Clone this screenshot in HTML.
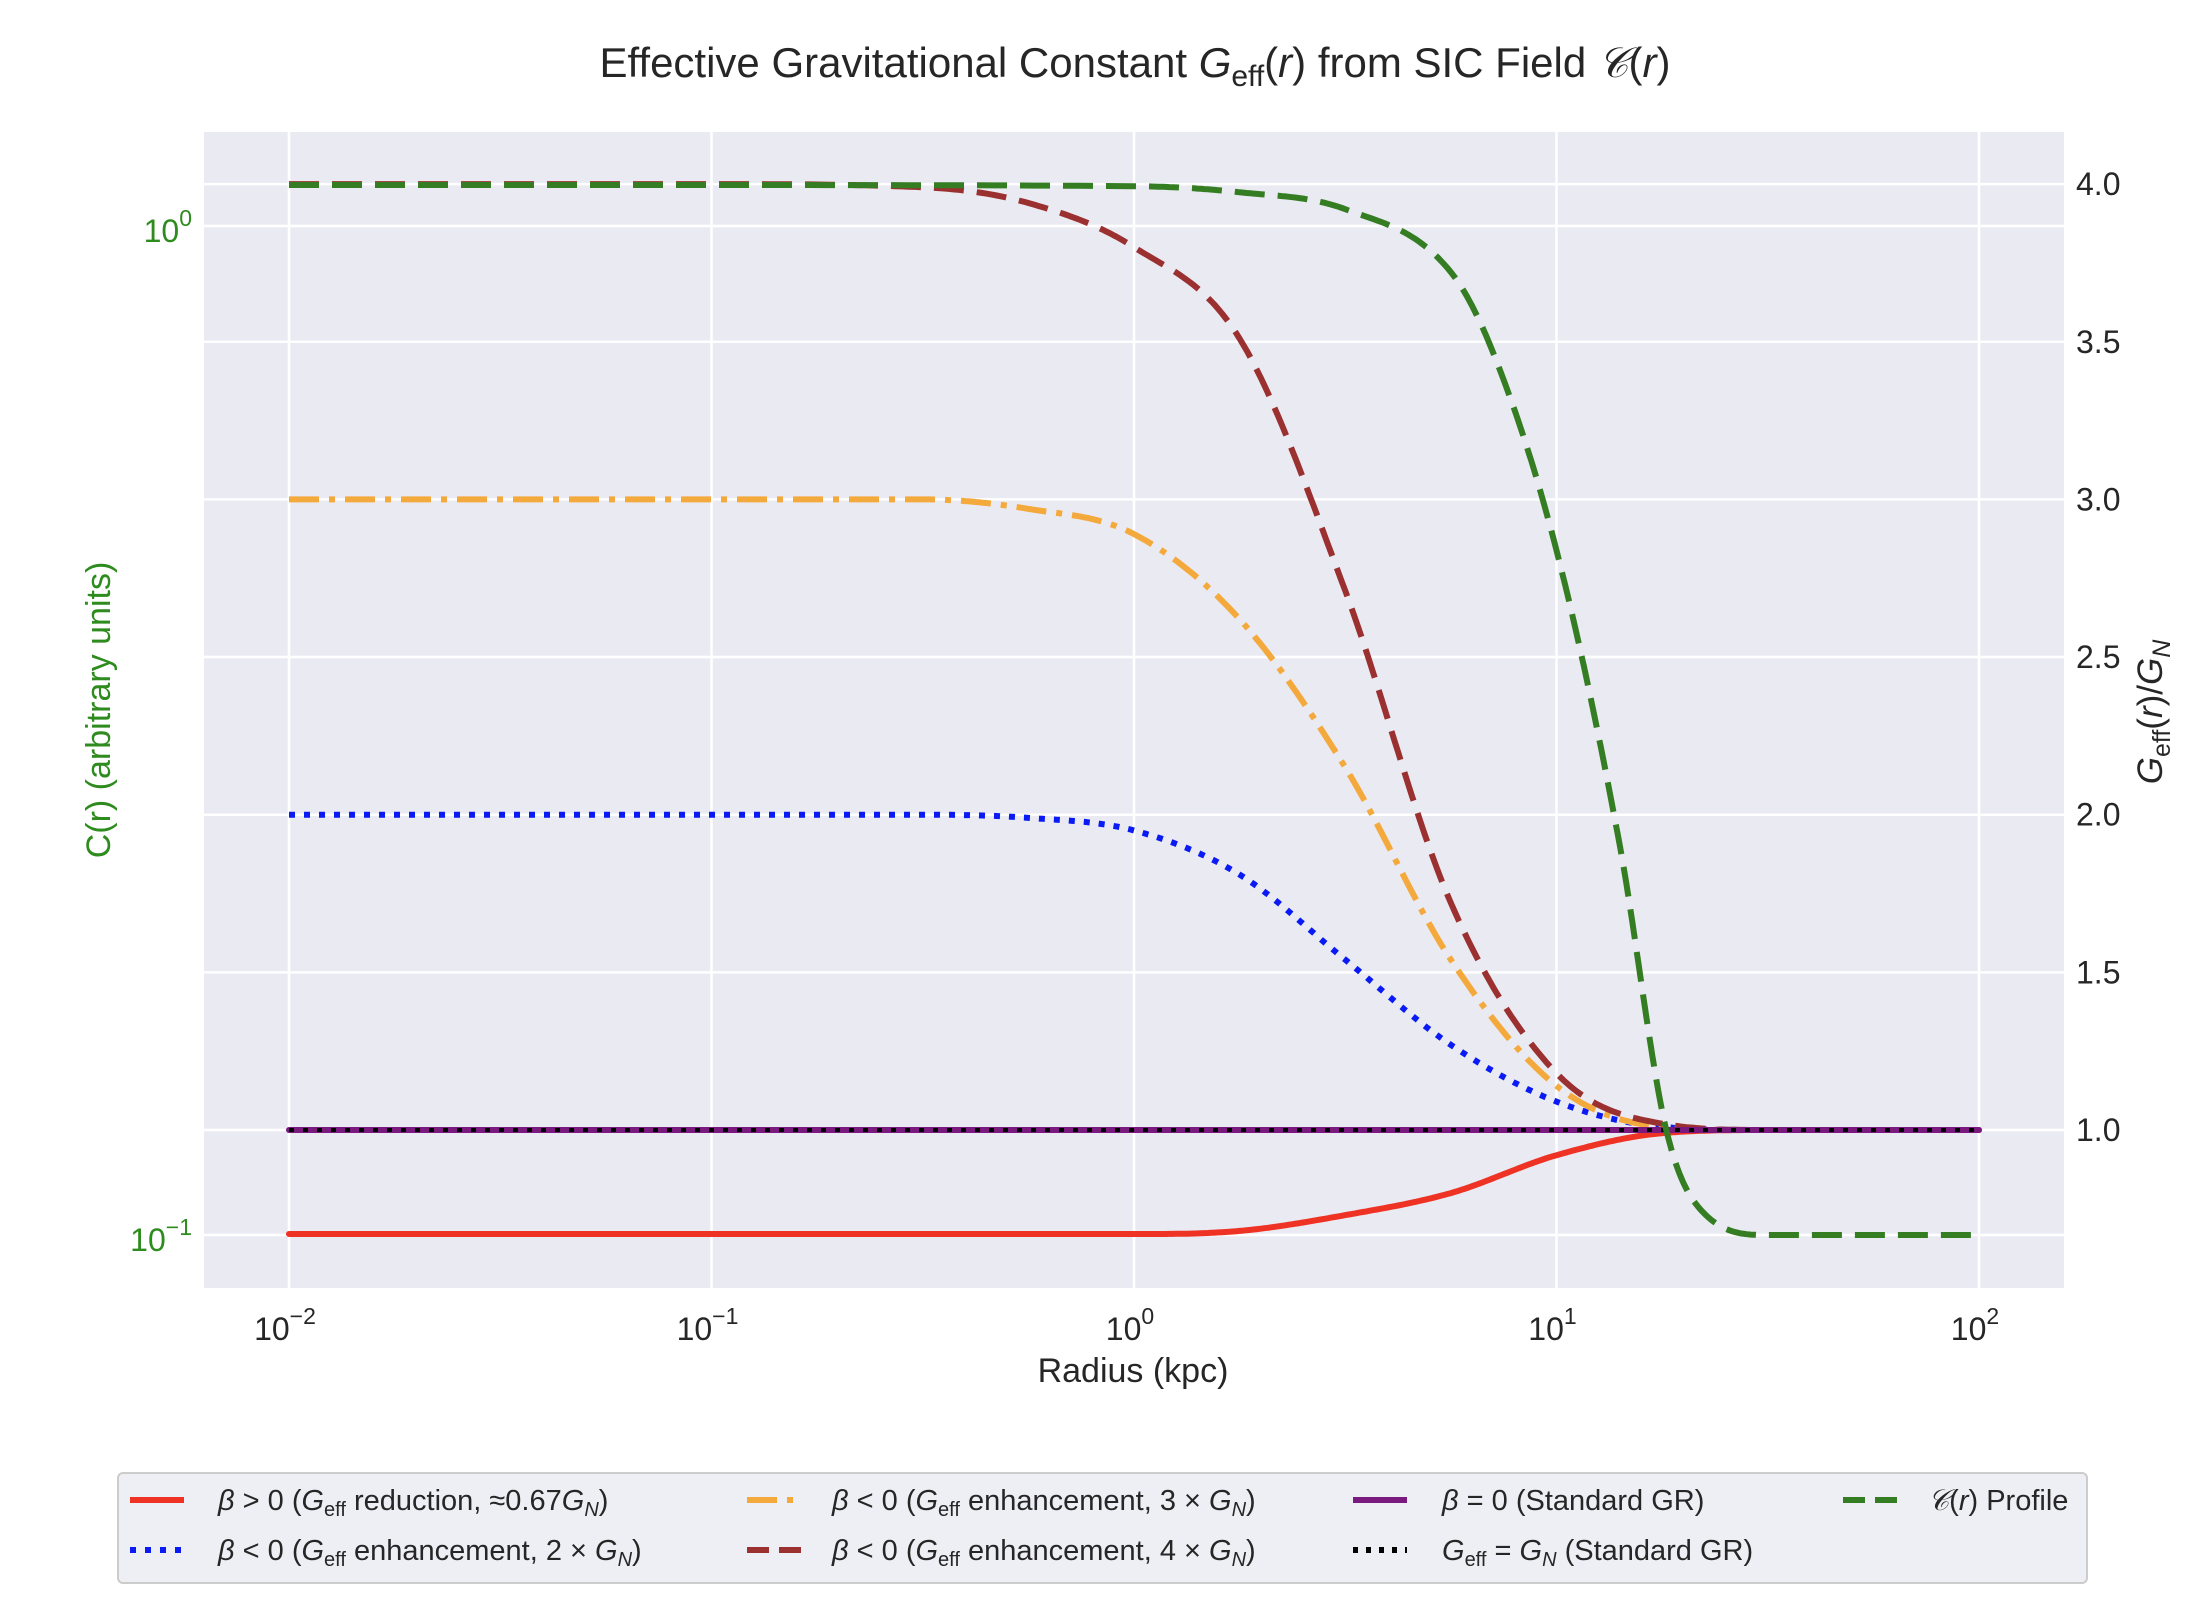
<!DOCTYPE html>
<html><head><meta charset="utf-8"><style>
body{margin:0;background:#fff}
svg{display:block;font-family:"Liberation Sans","DejaVu Sans",sans-serif}
</style></head><body>
<svg id="chart" width="2210" height="1600" viewBox="0 0 2210 1600" xmlns="http://www.w3.org/2000/svg">
<rect x="0" y="0" width="2210" height="1600" fill="#fff"/>
<rect x="204" y="132" width="1860" height="1156" fill="#eaeaf2"/>
<g id="grid"></g>
<g id="series"></g>
<g id="axes"></g>
<text x="1135" y="77" font-size="42" text-anchor="middle" fill="#262626">Effective Gravitational Constant <tspan font-style="italic">G</tspan><tspan font-size="30" dy="9">eff</tspan><tspan dy="-9">(</tspan><tspan font-style="italic">r</tspan>) from SIC Field <tspan font-style="italic">𝒞</tspan>(<tspan font-style="italic">r</tspan>)</text>
<text x="1133" y="1382" font-size="34" text-anchor="middle" fill="#262626">Radius (kpc)</text>
<text transform="translate(110,710) rotate(-90)" font-size="34" text-anchor="middle" fill="#2e8b1e">C(r) (arbitrary units)</text>
<text transform="translate(2162,712) rotate(-90)" font-size="35" text-anchor="middle" fill="#262626"><tspan font-style="italic">G</tspan><tspan font-size="25" dy="8">eff</tspan><tspan dy="-8">(</tspan><tspan font-style="italic">r</tspan>)/<tspan font-style="italic">G</tspan><tspan font-size="25" dy="8" font-style="italic">N</tspan></text>
<g id="legend">
<rect x="118" y="1473" width="1969" height="110" rx="5" fill="#eaeaf2" fill-opacity="0.8" stroke="#cccccc" stroke-width="2"/>
</g>
</svg>
<script>
// log10 radius sample points (kpc)
const logR = [-2, -1, -0.5, -0.25, 0, 0.25, 0.5, 0.75, 1.0, 1.25, 1.5, 2];
const gReduction = [0.67, 0.67, 0.67, 0.67, 0.67, 0.68, 0.73, 0.80, 0.92, 0.99, 1.0, 1.0];
const gEnh2 = [2.0, 2.0, 2.0, 1.99, 1.95, 1.81, 1.54, 1.27, 1.09, 1.01, 1.0, 1.0];
const gEnh3 = [3.0, 3.0, 3.0, 2.97, 2.89, 2.62, 2.15, 1.54, 1.14, 1.01, 1.0, 1.0];
const gEnh4 = [4.0, 4.0, 3.99, 3.94, 3.80, 3.51, 2.71, 1.72, 1.18, 1.02, 1.0, 1.0];
const gStd = [1, 1, 1, 1, 1, 1, 1, 1, 1, 1, 1, 1];
const logRC = [-2, -1, 0, 0.25, 0.5, 0.75, 0.85, 1.0, 1.15, 1.26, 1.35, 1.5, 2];
const cProfile = [1.098, 1.098, 1.095, 1.080, 1.039, 0.900, 0.749, 0.477, 0.243, 0.127, 0.105, 0.1, 0.1];
const xTicks = [-2, -1, 0, 1, 2];
const rightTicks = [1.0, 1.5, 2.0, 2.5, 3.0, 3.5, 4.0];
const leftTicks = [0, -1];

const NS = "http://www.w3.org/2000/svg";
const xS = L => 289 + (L + 2) * 422.5;
const yR = v => 1130 - (v - 1) * 315.3;
const yL = c => 226 - Math.log10(c) * 1009;
function mk(tag, attrs, parent) {
  const e = document.createElementNS(NS, tag);
  for (const k in attrs) e.setAttribute(k, attrs[k]);
  parent.appendChild(e);
  return e;
}
const grid = document.getElementById('grid');
const axes = document.getElementById('axes');
const series = document.getElementById('series');
const legend = document.getElementById('legend');

xTicks.forEach(t => {
  const l = mk('line', {x1: xS(t), x2: xS(t), y1: 132, y2: 1288, stroke: '#fff', 'stroke-width': 2.5}, grid);
  
  
  const tx = mk('text', {x: xS(t) - 4, y: 1340, 'font-size': 32, 'text-anchor': 'middle', fill: '#262626'}, axes);
  
  
  tx.innerHTML = '10<tspan font-size="23" dy="-16">' + (t < 0 ? '−' + (-t) : t) + '</tspan>';
});
rightTicks.forEach(t => {
  const l = mk('line', {x1: 204, x2: 2064, y1: yR(t), y2: yR(t), stroke: '#fff', 'stroke-width': 2.5}, grid);
  
  
  const tx = mk('text', {x: 2076, y: yR(t) + 11, 'font-size': 32, fill: '#262626'}, axes);
  
  
  tx.textContent = t.toFixed(1);
});
leftTicks.forEach(t => {
  const y = yL(Math.pow(10, t));
  const l = mk('line', {x1: 204, x2: 2064, y1: y, y2: y, stroke: '#fff', 'stroke-width': 2.5}, grid);
  
  
  const tx = mk('text', {x: 192, y: y + 16, 'font-size': 32, 'text-anchor': 'end', fill: '#2e8b1e'}, axes);
  
  
  tx.innerHTML = '10<tspan font-size="23" dy="-16">' + (t < 0 ? '−' + (-t) : t) + '</tspan>';
});

// monotone cubic (Fritsch-Carlson) interpolation, densely sampled
function monoPath(xs, ys) {
  const n = xs.length, d = [], m = [];
  for (let i = 0; i < n - 1; i++) d.push((ys[i + 1] - ys[i]) / (xs[i + 1] - xs[i]));
  m[0] = d[0]; m[n - 1] = d[n - 2];
  for (let i = 1; i < n - 1; i++) m[i] = (d[i - 1] * d[i] <= 0) ? 0 : (d[i - 1] + d[i]) / 2;
  for (let i = 0; i < n - 1; i++) {
    if (d[i] === 0) { m[i] = 0; m[i + 1] = 0; continue; }
    const a = m[i] / d[i], b = m[i + 1] / d[i], s = a * a + b * b;
    if (s > 9) { const t = 3 / Math.sqrt(s); m[i] = t * a * d[i]; m[i + 1] = t * b * d[i]; }
  }
  const out = [];
  for (let i = 0; i < n - 1; i++) {
    const h = xs[i + 1] - xs[i];
    for (let k = 0; k < 30; k++) {
      const t = k / 30, t2 = t * t, t3 = t2 * t;
      const v = (2 * t3 - 3 * t2 + 1) * ys[i] + (t3 - 2 * t2 + t) * h * m[i] + (-2 * t3 + 3 * t2) * ys[i + 1] + (t3 - t2) * h * m[i + 1];
      out.push([xs[i] + t * h, v]);
    }
  }
  out.push([xs[n - 1], ys[n - 1]]);
  return out;
}
const defs = [
  {name: 'series-beta-positive', xs: logR, ys: gReduction, f: yR, log: false, color: '#ee3224', dash: '', cap: 'round'},
  {name: 'series-enhancement-2x', xs: logR, ys: gEnh2, f: yR, log: false, color: '#0a1af5', dash: '6 9', cap: 'butt'},
  {name: 'series-enhancement-3x', xs: logR, ys: gEnh3, f: yR, log: false, color: '#f4a93c', dash: '30 10 6 10', cap: 'butt'},
  {name: 'series-enhancement-4x', xs: logR, ys: gEnh4, f: yR, log: false, color: '#9b3030', dash: '30 13', cap: 'butt'},
  {name: 'series-beta-zero', xs: logR, ys: gStd, f: yR, log: false, color: '#7a1a7e', dash: '', cap: 'round'},
  {name: 'series-standard-gr', xs: logR, ys: gStd, f: yR, log: false, color: '#000', dash: '5 9', cap: 'butt'},
  {name: 'series-c-profile', xs: logRC, ys: cProfile, f: yL, log: true, color: '#357d22', dash: '30 13', cap: 'butt'}
];
defs.forEach(s => {
  const yv = s.log ? s.ys.map(v => Math.log10(v)) : s.ys;
  const pts = monoPath(s.xs, yv).map(p => [xS(p[0]).toFixed(1), s.f(s.log ? Math.pow(10, p[1]) : p[1]).toFixed(1)]);
  const d = 'M' + pts.map(p => p.join(',')).join(' L');
  const w = s.name === 'series-standard-gr' ? 4 : 6;
  const p = mk('path', {d: d, fill: 'none', stroke: s.color, 'stroke-width': w, 'stroke-dasharray': s.dash, 'stroke-linecap': s.cap, 'stroke-linejoin': 'round'}, series);
  
  
});

const leg = [
  {c: '#ee3224', d: '', hx: 130, tx: 218, y: 1500, html: '<tspan font-style="italic">β</tspan> &gt; 0 (<tspan font-style="italic">G</tspan><tspan font-size="20" dy="6">eff</tspan><tspan dy="-6"> reduction, ≈0.67</tspan><tspan font-style="italic">G</tspan><tspan font-size="20" dy="6" font-style="italic">N</tspan><tspan dy="-6">)</tspan>'},
  {c: '#0a1af5', d: '6 9', hx: 130, tx: 218, y: 1550, html: '<tspan font-style="italic">β</tspan> &lt; 0 (<tspan font-style="italic">G</tspan><tspan font-size="20" dy="6">eff</tspan><tspan dy="-6"> enhancement, 2 × </tspan><tspan font-style="italic">G</tspan><tspan font-size="20" dy="6" font-style="italic">N</tspan><tspan dy="-6">)</tspan>'},
  {c: '#f4a93c', d: '30 10 6 10', hx: 747, tx: 832, y: 1500, html: '<tspan font-style="italic">β</tspan> &lt; 0 (<tspan font-style="italic">G</tspan><tspan font-size="20" dy="6">eff</tspan><tspan dy="-6"> enhancement, 3 × </tspan><tspan font-style="italic">G</tspan><tspan font-size="20" dy="6" font-style="italic">N</tspan><tspan dy="-6">)</tspan>'},
  {c: '#9b3030', d: '22 10', hx: 747, tx: 832, y: 1550, html: '<tspan font-style="italic">β</tspan> &lt; 0 (<tspan font-style="italic">G</tspan><tspan font-size="20" dy="6">eff</tspan><tspan dy="-6"> enhancement, 4 × </tspan><tspan font-style="italic">G</tspan><tspan font-size="20" dy="6" font-style="italic">N</tspan><tspan dy="-6">)</tspan>'},
  {c: '#7a1a7e', d: '', hx: 1353, tx: 1442, y: 1500, html: '<tspan font-style="italic">β</tspan> = 0 (Standard GR)'},
  {c: '#000', d: '5 8', hx: 1353, tx: 1442, y: 1550, html: '<tspan font-style="italic">G</tspan><tspan font-size="20" dy="6">eff</tspan><tspan dy="-6"> = </tspan><tspan font-style="italic">G</tspan><tspan font-size="20" dy="6" font-style="italic">N</tspan><tspan dy="-6"> (Standard GR)</tspan>'},
  {c: '#357d22', d: '22 10', hx: 1843, tx: 1928, y: 1500, html: '<tspan font-style="italic">𝒞</tspan>(<tspan font-style="italic">r</tspan>) Profile'}
];
leg.forEach(e => {
  const l = mk('line', {x1: e.hx, x2: e.hx + 54, y1: e.y, y2: e.y, stroke: e.c, 'stroke-width': 6, 'stroke-dasharray': e.d}, legend);
  
  
  const t = mk('text', {x: e.tx, y: e.y + 10, 'font-size': 29, fill: '#262626'}, legend);
  
  
  t.innerHTML = e.html;
});
</script>
</body></html>
